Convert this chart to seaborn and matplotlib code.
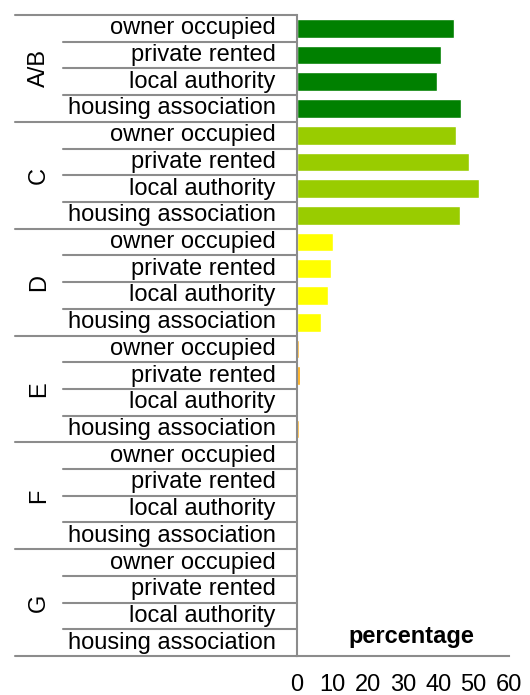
import pandas as pd
import matplotlib.pyplot as plt
import matplotlib.transforms as mtransforms
import seaborn as sns

bands = ['A/B', 'C', 'D', 'E', 'F', 'G']
tenures = ['owner occupied', 'private rented', 'local authority', 'housing association']
pct_ab = [44.4, 40.8, 39.6, 46.4]
pct_c = [45.0, 48.7, 51.5, 46.1]
pct_d = [10.2, 9.6, 8.8, 6.8]
pct_e = [0.6, 0.9, 0.0, 0.6]
pct_f = [0.0, 0.0, 0.0, 0.0]
pct_g = [0.0, 0.0, 0.0, 0.0]
band_colors = {'A/B': '#008000', 'C': '#99CC00', 'D': '#FFFF00',
               'E': '#FFA500', 'F': '#FF6600', 'G': '#FF0000'}
x_ticks = [0, 10, 20, 30, 40, 50, 60]

rows = []
for band, vals in zip(bands, [pct_ab, pct_c, pct_d, pct_e, pct_f, pct_g]):
    for ten, v in zip(tenures, vals):
        rows.append({'band': band, 'tenure': ten, 'key': band + '|' + ten, 'pct': v})
df = pd.DataFrame(rows)

sns.set_style('white')
plt.rcParams['font.family'] = ['Liberation Sans', 'DejaVu Sans']
plt.rcParams['text.color'] = 'black'
plt.rcParams['xtick.labelcolor'] = 'black'

fig = plt.figure(figsize=(5.3, 6.95), dpi=100)
ax = fig.add_axes([0.5604, 0.0561, 0.40, 0.9223])
sns.barplot(data=df, y='key', x='pct', hue='band', palette=band_colors,
            dodge=False, legend=False, width=0.7, orient='h', saturation=1, ax=ax)

n = len(df)
grey = '#8c8c8c'
ax.set_xlim(0, 60)
ax.set_ylim(n - 0.5, -0.5)
ax.set_xticks(x_ticks)
ax.set_xticklabels([str(t) for t in x_ticks], fontsize=17)
ax.tick_params(axis='x', direction='out', length=5, width=1.5, color=grey, pad=8)
ax.set_yticks([])
ax.set_ylabel('')
ax.set_xlabel('')
for s in ['top', 'right']:
    ax.spines[s].set_visible(False)
for s in ['left', 'bottom']:
    ax.spines[s].set_color(grey)
    ax.spines[s].set_linewidth(1.5)

trans = mtransforms.blended_transform_factory(ax.transAxes, ax.transData)
for i in range(n + 1):
    y = i - 0.5
    x0 = -1.33 if i % 4 == 0 else -1.104
    ax.plot([x0, 0], [y, y], color=grey, lw=1.5, transform=trans, clip_on=False)
for i, r in df.iterrows():
    ax.text(-0.1, i, r['tenure'], transform=trans, ha='right', va='center', fontsize=17)
for j, band in enumerate(bands):
    ax.text(-1.217, j * 4 + 1.5, band, transform=trans, ha='center', va='center',
            rotation=90, fontsize=17)

ax.text(0.54, 0.03, 'percentage', transform=ax.transAxes, ha='center', va='center',
        fontsize=17, fontweight='bold')

fig.savefig('out.png', dpi=100)
